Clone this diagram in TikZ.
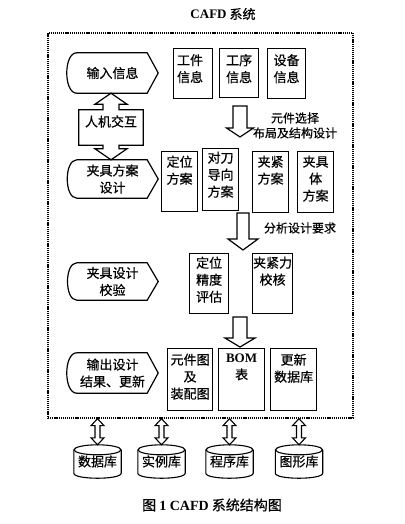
\documentclass[tikz,border=0pt]{standalone}
\usepackage{fontspec}
\setmainfont{Noto Sans CJK SC}[FakeBold=0.6]
\newfontfamily\lat{Liberation Serif}
\usetikzlibrary{calc}
\newcommand\bxf{\fontsize{13}{17}\selectfont}
\newcommand\lbf{\fontsize{12}{15}\selectfont}
\newcommand\capf{\fontsize{14}{17}\selectfont}
\newcommand\lshape[1]{\draw[ln] ($(#1.north west)+(10,0)$) -- ($(#1.north east)+(-11,0)$) -- (#1.east) -- ($(#1.south east)+(-11,0)$) -- ($(#1.south west)+(10,0)$) to[out=180,in=180,looseness=0.85] ($(#1.north west)+(10,0)$) -- cycle;}
\newcommand\bigdown[5]{\draw[ln] let \p1=#1, \p2=#2 in (\x1-#3pt,\y1) -- (\x1+#3pt,\y1) -- (\x1+#3pt,\y2+#5pt) -- (\x1+#4pt,\y2+#5pt) -- (\x1,\y2) -- (\x1-#4pt,\y2+#5pt) -- (\x1-#3pt,\y2+#5pt) -- cycle;}
\newcommand\bigdbl[5]{\draw[thinln] let \p1=#1, \p2=#2 in (\x2,\y1) -- (\x2+#4pt,\y1-#5pt) -- (\x2+#3pt,\y1-#5pt) -- (\x2+#3pt,\y2+#5pt) -- (\x2+#4pt,\y2+#5pt) -- (\x2,\y2) -- (\x2-#4pt,\y2+#5pt) -- (\x2-#3pt,\y2+#5pt) -- (\x2-#3pt,\y1-#5pt) -- (\x2-#4pt,\y1-#5pt) -- cycle;}
\newcommand\cyl[1]{\draw[thinln] ($(#1.north west)+(0,5)$) -- ($(#1.south west)+(0,-5)$) .. controls +(0,6.7) and +(0,6.7) .. ($(#1.south east)+(0,-5)$) -- ($(#1.north east)+(0,5)$); \draw[thinln] ($(#1.north)+(0,5)$) ellipse [x radius=23.5, y radius=5];}
\begin{document}
\begin{tikzpicture}[x=1pt,y=-1pt,
 ln/.style={line width=1.2pt, line join=miter},
 thinln/.style={line width=1.1pt, line join=miter},
 bx/.style={draw, line width=1.2pt, inner sep=0pt, anchor=north west},
 lbl/.style={anchor=north, align=center, inner sep=0pt, font=\bxf},
 sh/.style={inner sep=0pt, minimum width=91pt, align=center, font=\bxf},
 db/.style={inner sep=0pt, minimum width=47pt, minimum height=33pt, font=\bxf},
 note/.style={align=center, inner sep=0pt, font=\lbf}]
\useasboundingbox (0,0) rectangle (404,524);
\fill[white] (0,0) rectangle (404,524);

\node[font=\bxf] (title) at (223,14) {{\lat\bfseries CAFD} 系统};
\node[draw, line width=1.3pt, dash pattern=on 1.2pt off 0.9pt, minimum width=305pt, minimum height=385pt, inner sep=0pt] (sys) at (200.5,225.5) {};

% left column
\node[sh, minimum height=40pt] (sr) at (112.5,73) {输入信息};
\node[sh, minimum height=38pt] (fa) at (112.5,179) {夹具方案\\设计};
\node[sh, minimum height=37pt] (jy) at (112.5,281.5) {夹具设计\\校验};
\node[sh, minimum height=40pt] (sc) at (112.5,373) {输出设计\\结果、更新};
\lshape{sr}
\lshape{fa}
\lshape{jy}
\lshape{sc}

\node[inner sep=0pt, minimum width=64pt, minimum height=35pt, label={[lbl,anchor=center,yshift=6pt]center:人机交互}] (hj) at (111,127.5) {};
\draw[ln] let \p1=(sr.south), \p2=(fa.north), \p3=(hj.north east), \p4=(hj.south west), \p5=(hj.center) in
 (\x5,\y1) -- (\x5+16pt,\y1-11pt) -- (\x5+8pt,\y1-11pt) -- (\x5+8pt,\y3) -- (\x3,\y3) -- (\x3,\y4) -- (\x5+8pt,\y4) -- (\x5+8pt,\y2+11pt) -- (\x5+16pt,\y2+11pt) -- (\x5,\y2) -- (\x5-16pt,\y2+11pt) -- (\x5-8pt,\y2+11pt) -- (\x5-8pt,\y4) -- (\x4,\y4) -- (\x4,\y3) -- (\x5-8pt,\y3) -- (\x5-8pt,\y1-11pt) -- (\x5-16pt,\y1-11pt) -- cycle;

% row 1
\node[bx, minimum width=39pt, minimum height=50pt, label={[lbl,xshift=-3pt,yshift=-6pt]north:工件\\信息}] (gj) at (173,48) {};
\node[bx, minimum width=39pt, minimum height=49pt, label={[lbl,yshift=-6pt]north:工序\\信息}] (gx) at (219,48) {};
\node[bx, minimum width=38pt, minimum height=50pt, label={[lbl,yshift=-6pt]north:设备\\信息}] (sb) at (267,48) {};

% row 2
\node[bx, minimum width=36pt, minimum height=60pt, label={[lbl,yshift=-4.5pt]north:定位\\方案}] (dw) at (161,151) {};
\node[bx, minimum width=36pt, minimum height=62pt, label={[lbl,yshift=-3.5pt]north:对刀\\导向\\方案}] (dd) at (202,148) {};
\node[bx, minimum width=36pt, minimum height=61pt, label={[lbl,yshift=-4.5pt]north:夹紧\\方案}] (jj) at (252,151) {};
\node[bx, minimum width=36pt, minimum height=61pt, label={[lbl,yshift=-4.5pt]north:夹具\\体\\方案}] (jt) at (297,151) {};

% row 3
\node[bx, minimum width=39pt, minimum height=60pt, label={[lbl,yshift=-3.5pt]north:定位\\精度\\评估}] (djd) at (189,253) {};
\node[bx, minimum width=40pt, minimum height=60pt, label={[lbl,yshift=-3.5pt]north:夹紧力\\校核}] (jjl) at (252,253) {};

% row 4
\node[bx, minimum width=45pt, minimum height=62pt, label={[lbl,yshift=-5.5pt]north:元件图\\及\\装配图}] (yj) at (167,348) {};
\node[bx, minimum width=46pt, minimum height=62pt, label={[lbl,yshift=-5.5pt]north:{\lat\bfseries BOM}\\表}] (bom) at (218,348) {};
\node[bx, minimum width=46pt, minimum height=62pt, label={[lbl,yshift=-5.5pt]north:更新\\数据库}] (gx2) at (270,348) {};

% notes
\node[note] (n1) at (295,125.5) {元件选择\\布局及结构设计};
\node[note] (n2) at (300,228) {分析设计要求};

% big arrows
\coordinate (a1s) at (240,106); \coordinate (a1e) at (240,137);
\coordinate (a2s) at (243,213); \coordinate (a2e) at (243,250);
\coordinate (a3s) at (240,317); \coordinate (a3e) at (240,347);
\bigdown{(a1s)}{(a1e)}{7}{13.5}{9}
\bigdown{(a2s)}{(a2e)}{6}{15}{11}
\bigdown{(a3s)}{(a3e)}{7}{15}{9}

% databases
\node[db] (c1) at (97.5,461.5) {数据库};
\node[db] (c2) at (161.5,461.5) {实例库};
\node[db] (c3) at (229.5,461.5) {程序库};
\node[db] (c4) at (299,461.5) {图形库};
\cyl{c1}
\cyl{c2}
\cyl{c3}
\cyl{c4}
\bigdbl{(sys.south -| c1.north)}{(c1.north)}{2.5}{6.5}{7}
\bigdbl{(sys.south -| c2.north)}{(c2.north)}{2.5}{6.5}{7}
\bigdbl{(sys.south -| c3.north)}{(c3.north)}{2.5}{6.5}{7}
\bigdbl{(sys.south -| c4.north)}{(c4.north)}{2.5}{6.5}{7}

\node[font=\capf] (cap) at (212,505) {图 {\lat\bfseries 1 CAFD} 系统结构图};
\end{tikzpicture}
\end{document}
